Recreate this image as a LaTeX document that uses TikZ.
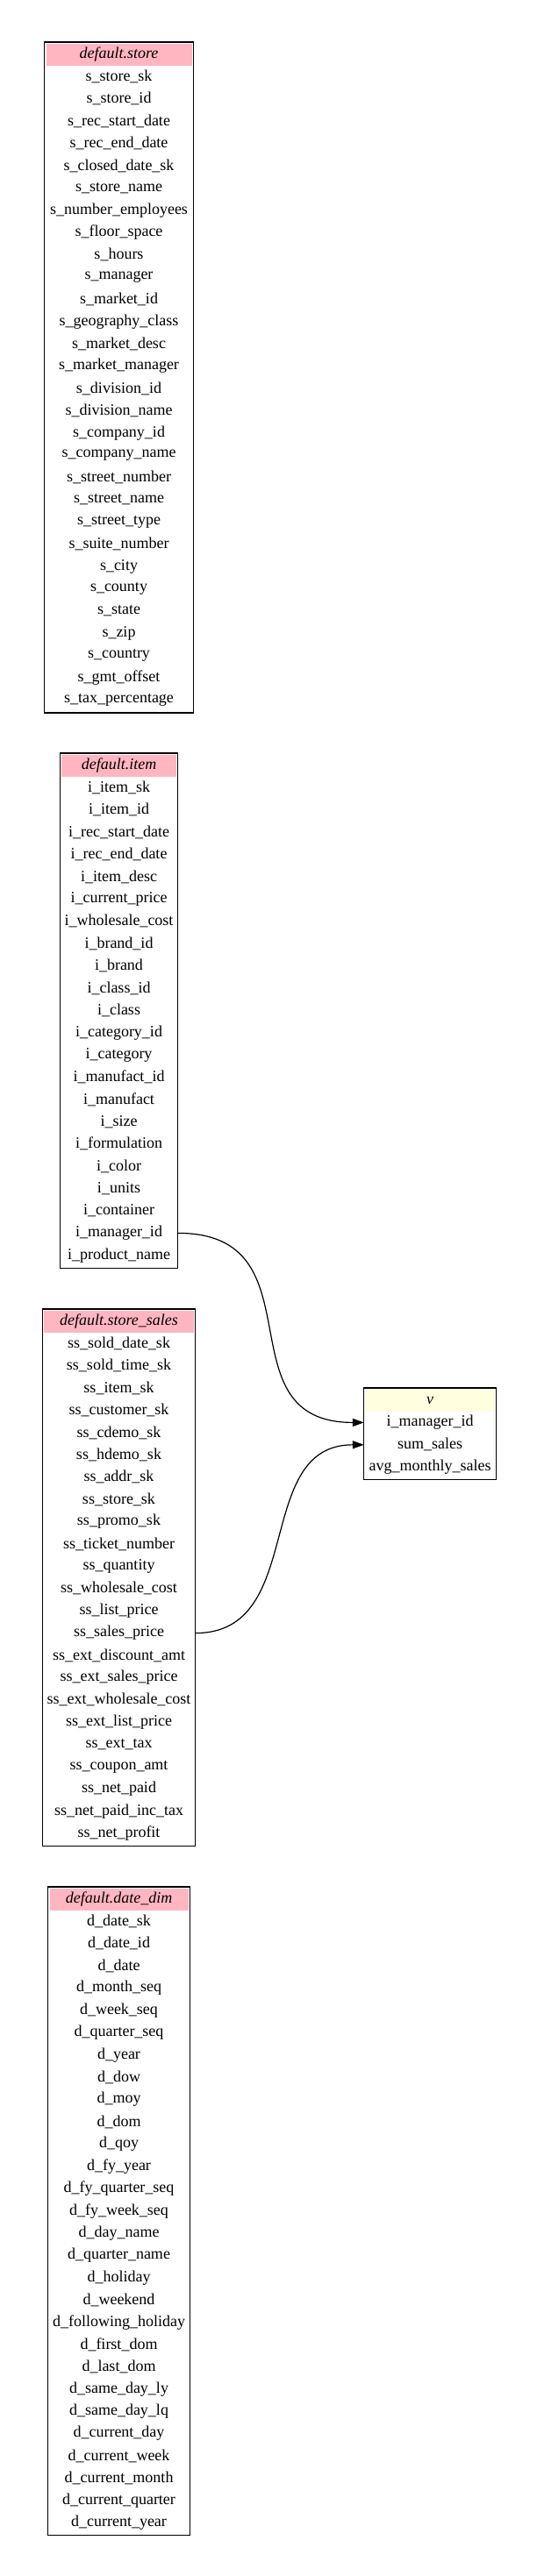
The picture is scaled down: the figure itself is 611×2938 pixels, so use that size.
\documentclass[tikz,border=0pt]{standalone}
\usepackage{fontspec}
\setmainfont{Liberation Serif}
\usepackage{tikz}
\usetikzlibrary{arrows.meta,positioning}
\definecolor{erdpink}{HTML}{FFB6C1}
\definecolor{erdyellow}{HTML}{FFFFE0}
\newcommand{\erdfont}{\fontsize{18}{21}\selectfont}
\tikzset{
  erdhead/.style ={rectangle, inner sep=0pt, minimum height=25pt,
                   font=\erdfont\itshape, anchor=north},
  erdrow/.style  ={rectangle, inner sep=0pt, minimum height=25.4pt,
                   font=\erdfont, anchor=north},
  erdbox/.style  ={draw=black, line width=1.3pt},
  erdlink/.style ={-{Triangle[length=13pt,width=9pt]}, line width=1.2pt, draw=black},
}
% #1 name, #2 centre x, #3 top y, #4 width, #5 header colour, #6 title, #7 columns
\newcommand{\erdtable}[7]{%
  \node[erdhead, fill=#5, minimum width=#4pt-3pt] (#1-h) at (#2,#3+1.5) {#6};
  \foreach \r [count=\i] in {#7}{%
    \node[erdrow, minimum width=#4pt] (#1-\i) at (#2,{#3+26.5+25.4*(\i-1)}) {\r};
    \xdef\erdlast{\i}}
  \draw[erdbox] ([xshift=-1.5pt,yshift=1.5pt]#1-h.north west)
    rectangle ([yshift=-1.5pt]#1-\erdlast.south east);}

\begin{document}
\begin{tikzpicture}[x=1pt,y=-1pt]
  \useasboundingbox (0,0) rectangle (611,2938);
  \erdtable{store}{135.5}{48}{169}{erdpink}{default.store}{%
    s\_store\_sk,s\_store\_id,s\_rec\_start\_date,s\_rec\_end\_date,s\_closed\_date\_sk,
    s\_store\_name,s\_number\_employees,s\_floor\_space,s\_hours,s\_manager,
    s\_market\_id,s\_geography\_class,s\_market\_desc,s\_market\_manager,
    s\_division\_id,s\_division\_name,s\_company\_id,s\_company\_name,
    s\_street\_number,s\_street\_name,s\_street\_type,s\_suite\_number,s\_city,
    s\_county,s\_state,s\_zip,s\_country,s\_gmt\_offset,s\_tax\_percentage}
  \erdtable{item}{135.5}{859}{134}{erdpink}{default.item}{%
    i\_item\_sk,i\_item\_id,i\_rec\_start\_date,i\_rec\_end\_date,i\_item\_desc,
    i\_current\_price,i\_wholesale\_cost,i\_brand\_id,i\_brand,i\_class\_id,i\_class,
    i\_category\_id,i\_category,i\_manufact\_id,i\_manufact,i\_size,i\_formulation,
    i\_color,i\_units,i\_container,i\_manager\_id,i\_product\_name}
  \erdtable{sales}{135.5}{1493}{174}{erdpink}{default.store\_sales}{%
    ss\_sold\_date\_sk,ss\_sold\_time\_sk,ss\_item\_sk,ss\_customer\_sk,ss\_cdemo\_sk,
    ss\_hdemo\_sk,ss\_addr\_sk,ss\_store\_sk,ss\_promo\_sk,ss\_ticket\_number,
    ss\_quantity,ss\_wholesale\_cost,ss\_list\_price,ss\_sales\_price,
    ss\_ext\_discount\_amt,ss\_ext\_sales\_price,ss\_ext\_wholesale\_cost,
    ss\_ext\_list\_price,ss\_ext\_tax,ss\_coupon\_amt,ss\_net\_paid,
    ss\_net\_paid\_inc\_tax,ss\_net\_profit}
  \erdtable{date}{135.5}{2152}{161}{erdpink}{default.date\_dim}{%
    d\_date\_sk,d\_date\_id,d\_date,d\_month\_seq,d\_week\_seq,d\_quarter\_seq,d\_year,
    d\_dow,d\_moy,d\_dom,d\_qoy,d\_fy\_year,d\_fy\_quarter\_seq,d\_fy\_week\_seq,
    d\_day\_name,d\_quarter\_name,d\_holiday,d\_weekend,d\_following\_holiday,
    d\_first\_dom,d\_last\_dom,d\_same\_day\_ly,d\_same\_day\_lq,d\_current\_day,
    d\_current\_week,d\_current\_month,d\_current\_quarter,d\_current\_year}
  \erdtable{v}{490}{1583}{150}{erdyellow}{v}{%
    i\_manager\_id,sum\_sales,avg\_monthly\_sales}
  % lineage links
  \draw[erdlink] (item-21.east) .. controls +(165,0) and +(-165,0) .. (v-1.west);
  \draw[erdlink] (sales-14.east) .. controls +(128,0) and +(-128,0) .. (v-2.west);
\end{tikzpicture}
\end{document}
